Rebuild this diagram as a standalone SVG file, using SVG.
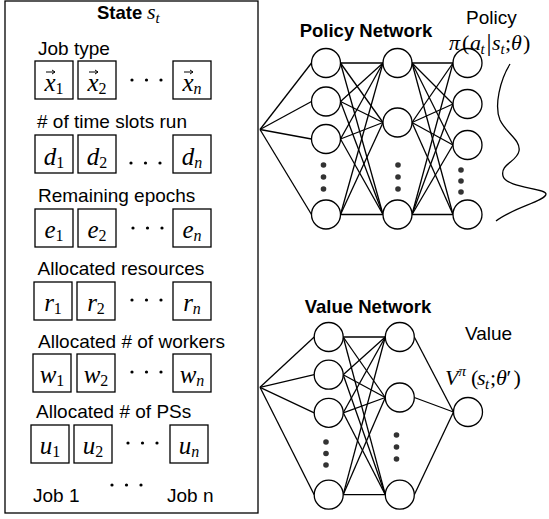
<svg xmlns="http://www.w3.org/2000/svg" width="549" height="519" viewBox="0 0 549 519">
<style>
.lbl{font-family:"Liberation Sans",Arial,Helvetica,sans-serif;font-size:19px;fill:#000}
.hdr{font-family:"Liberation Sans",Arial,Helvetica,sans-serif;font-size:18.5px;font-weight:bold;fill:#000}
.m{font-family:"Liberation Serif","Times New Roman",serif;font-size:22px;font-style:italic;fill:#000}
.bx{font-size:25px}
.up{font-style:normal}
.sb{font-size:15px}
.bs{font-size:16px}
.cell{fill:none;stroke:#000;stroke-width:1.3}
.frame{fill:#fff;stroke:#000;stroke-width:1.3}
.node{fill:#fff;stroke:#000;stroke-width:1.3}
.edge line{stroke:#000;stroke-width:1.3}
.vec{fill:none;stroke:#000;stroke-width:1}
.dot{fill:#333}
.sdot{fill:#000}
.curve{fill:none;stroke:#000;stroke-width:1.3}
</style>
<rect width="549" height="519" fill="#fff"/>

<g id="state">
<rect class="frame" x="5" y="1" width="253" height="512"/>
<text class="hdr" x="97" y="18.5" font-size="17">State</text>
<text class="m" x="147" y="18.5" font-size="20">s<tspan class="sb" dy="4" font-size="14">t</tspan></text>

<g id="row-jobtype">
<text class="lbl" x="38" y="55">Job type</text>
<rect class="cell" x="35" y="61" width="38" height="38"/>
<rect class="cell" x="78" y="61" width="38" height="38"/>
<rect class="cell" x="173" y="61" width="38" height="38"/>
<text class="m bx" x="54" y="91" text-anchor="middle">x<tspan class="up bs" dy="3">1</tspan></text>
<text class="m bx" x="97" y="91" text-anchor="middle">x<tspan class="up bs" dy="3">2</tspan></text>
<text class="m bx" x="192" y="91" text-anchor="middle">x<tspan class="bs" dy="3">n</tspan></text>
<path class="vec" d="M46,72H55M52,70L55,72L52,74M89,72H98M95,70L98,72L95,74M184,72H193M190,70L193,72L190,74"/>
<circle class="sdot" cx="132" cy="80" r="1.6"/><circle class="sdot" cx="146.5" cy="80" r="1.6"/><circle class="sdot" cx="161" cy="80" r="1.6"/>
</g>

<g id="row-timeslots">
<text class="lbl" x="37" y="128"># of time slots run</text>
<rect class="cell" x="35" y="135" width="38" height="38"/>
<rect class="cell" x="78" y="135" width="38" height="38"/>
<rect class="cell" x="173" y="135" width="38" height="38"/>
<text class="m bx" x="54" y="165" text-anchor="middle">d<tspan class="up bs" dy="3">1</tspan></text>
<text class="m bx" x="97" y="165" text-anchor="middle">d<tspan class="up bs" dy="3">2</tspan></text>
<text class="m bx" x="192" y="165" text-anchor="middle">d<tspan class="bs" dy="3">n</tspan></text>
<circle class="sdot" cx="131" cy="163" r="1.6"/><circle class="sdot" cx="145.5" cy="163" r="1.6"/><circle class="sdot" cx="160" cy="163" r="1.6"/>
</g>

<g id="row-epochs">
<text class="lbl" x="38" y="202">Remaining epochs</text>
<rect class="cell" x="35" y="209" width="38" height="38"/>
<rect class="cell" x="78" y="209" width="38" height="38"/>
<rect class="cell" x="173" y="209" width="38" height="38"/>
<text class="m bx" x="54" y="238" text-anchor="middle">e<tspan class="up bs" dy="3">1</tspan></text>
<text class="m bx" x="97" y="238" text-anchor="middle">e<tspan class="up bs" dy="3">2</tspan></text>
<text class="m bx" x="192" y="238" text-anchor="middle">e<tspan class="bs" dy="3">n</tspan></text>
<circle class="sdot" cx="133" cy="228" r="1.6"/><circle class="sdot" cx="147.5" cy="228" r="1.6"/><circle class="sdot" cx="162" cy="228" r="1.6"/>
</g>

<g id="row-resources">
<text class="lbl" x="37.5" y="275">Allocated resources</text>
<rect class="cell" x="34" y="282" width="38" height="38"/>
<rect class="cell" x="77" y="282" width="38" height="38"/>
<rect class="cell" x="173" y="282" width="38" height="38"/>
<text class="m bx" x="53" y="311" text-anchor="middle">r<tspan class="up bs" dy="3">1</tspan></text>
<text class="m bx" x="96" y="311" text-anchor="middle">r<tspan class="up bs" dy="3">2</tspan></text>
<text class="m bx" x="192" y="311" text-anchor="middle">r<tspan class="bs" dy="3">n</tspan></text>
<circle class="sdot" cx="132" cy="300" r="1.6"/><circle class="sdot" cx="146.5" cy="300" r="1.6"/><circle class="sdot" cx="161" cy="300" r="1.6"/>
</g>

<g id="row-workers">
<text class="lbl" x="38" y="348">Allocated # of workers</text>
<rect class="cell" x="33" y="354" width="38" height="38"/>
<rect class="cell" x="77" y="354" width="38" height="38"/>
<rect class="cell" x="173" y="354" width="38" height="38"/>
<text class="m bx" x="52" y="383" text-anchor="middle">w<tspan class="up bs" dy="3">1</tspan></text>
<text class="m bx" x="96" y="383" text-anchor="middle">w<tspan class="up bs" dy="3">2</tspan></text>
<text class="m bx" x="192" y="383" text-anchor="middle">w<tspan class="bs" dy="3">n</tspan></text>
<circle class="sdot" cx="132" cy="372" r="1.6"/><circle class="sdot" cx="146.5" cy="372" r="1.6"/><circle class="sdot" cx="161" cy="372" r="1.6"/>
</g>

<g id="row-ps">
<text class="lbl" x="36" y="418">Allocated # of PSs</text>
<rect class="cell" x="31" y="425" width="38" height="38"/>
<rect class="cell" x="74" y="425" width="38" height="38"/>
<rect class="cell" x="170" y="425" width="38" height="38"/>
<text class="m bx" x="50" y="454" text-anchor="middle">u<tspan class="up bs" dy="3">1</tspan></text>
<text class="m bx" x="93" y="454" text-anchor="middle">u<tspan class="up bs" dy="3">2</tspan></text>
<text class="m bx" x="189" y="454" text-anchor="middle">u<tspan class="bs" dy="3">n</tspan></text>
<circle class="sdot" cx="128" cy="443" r="1.6"/><circle class="sdot" cx="142.5" cy="443" r="1.6"/><circle class="sdot" cx="157" cy="443" r="1.6"/>
</g>

<circle class="sdot" cx="112" cy="485" r="1.6"/><circle class="sdot" cx="126.5" cy="485" r="1.6"/><circle class="sdot" cx="141" cy="485" r="1.6"/>
<text class="lbl" x="33" y="502">Job 1</text>
<text class="lbl" x="167" y="502">Job n</text>
</g>

<g id="connectors" class="edge">
<line x1="260" y1="129.5" x2="311.5" y2="63"/>
<line x1="260" y1="129.5" x2="311.5" y2="101.5"/>
<line x1="260" y1="129.5" x2="311.5" y2="139"/>
<line x1="260" y1="129.5" x2="311.5" y2="214.5"/>
<line x1="340.5" y1="63" x2="383" y2="63"/>
<line x1="340.5" y1="63" x2="383" y2="122.5"/>
<line x1="340.5" y1="63" x2="383" y2="214.5"/>
<line x1="340.5" y1="101.5" x2="383" y2="63"/>
<line x1="340.5" y1="101.5" x2="383" y2="122.5"/>
<line x1="340.5" y1="101.5" x2="383" y2="214.5"/>
<line x1="340.5" y1="139" x2="383" y2="63"/>
<line x1="340.5" y1="139" x2="383" y2="122.5"/>
<line x1="340.5" y1="139" x2="383" y2="214.5"/>
<line x1="340.5" y1="214.5" x2="383" y2="63"/>
<line x1="340.5" y1="214.5" x2="383" y2="122.5"/>
<line x1="340.5" y1="214.5" x2="383" y2="214.5"/>
<line x1="412" y1="63" x2="453" y2="63"/>
<line x1="412" y1="63" x2="453" y2="104"/>
<line x1="412" y1="63" x2="453" y2="145"/>
<line x1="412" y1="63" x2="453" y2="214.5"/>
<line x1="412" y1="122.5" x2="453" y2="63"/>
<line x1="412" y1="122.5" x2="453" y2="104"/>
<line x1="412" y1="122.5" x2="453" y2="145"/>
<line x1="412" y1="122.5" x2="453" y2="214.5"/>
<line x1="412" y1="214.5" x2="453" y2="63"/>
<line x1="412" y1="214.5" x2="453" y2="104"/>
<line x1="412" y1="214.5" x2="453" y2="145"/>
<line x1="412" y1="214.5" x2="453" y2="214.5"/>

<line x1="260" y1="387.3" x2="314.2" y2="337"/>
<line x1="260" y1="387.3" x2="314.2" y2="374.7"/>
<line x1="260" y1="387.3" x2="314.2" y2="412.8"/>
<line x1="260" y1="387.3" x2="314.2" y2="494.7"/>
<line x1="343.2" y1="337" x2="385.3" y2="337"/>
<line x1="343.2" y1="337" x2="385.3" y2="397.5"/>
<line x1="343.2" y1="337" x2="385.3" y2="494.7"/>
<line x1="343.2" y1="374.7" x2="385.3" y2="337"/>
<line x1="343.2" y1="374.7" x2="385.3" y2="397.5"/>
<line x1="343.2" y1="374.7" x2="385.3" y2="494.7"/>
<line x1="343.2" y1="412.8" x2="385.3" y2="337"/>
<line x1="343.2" y1="412.8" x2="385.3" y2="397.5"/>
<line x1="343.2" y1="412.8" x2="385.3" y2="494.7"/>
<line x1="343.2" y1="494.7" x2="385.3" y2="337"/>
<line x1="343.2" y1="494.7" x2="385.3" y2="397.5"/>
<line x1="343.2" y1="494.7" x2="385.3" y2="494.7"/>
<line x1="414.3" y1="337" x2="453.5" y2="412"/>
<line x1="414.3" y1="397.5" x2="453.5" y2="412"/>
<line x1="414.3" y1="494.7" x2="453.5" y2="412"/>
</g>

<g id="policy-network">
<text class="hdr" x="366" y="37" text-anchor="middle">Policy Network</text>
<g id="p1a"><circle class="node" cx="326" cy="63" r="14.5"/></g>
<g id="p1b"><circle class="node" cx="326" cy="101.5" r="14.5"/></g>
<g id="p1c"><circle class="node" cx="326" cy="139" r="14.5"/></g>
<g id="p1d"><circle class="node" cx="326" cy="214.5" r="14.5"/></g>
<g id="p2a"><circle class="node" cx="397.5" cy="63" r="14.5"/></g>
<g id="p2b"><circle class="node" cx="397.5" cy="122.5" r="14.5"/></g>
<g id="p2c"><circle class="node" cx="397.5" cy="214.5" r="14.5"/></g>
<g id="p3a"><circle class="node" cx="467.5" cy="63" r="14.5"/></g>
<g id="p3b"><circle class="node" cx="467.5" cy="104" r="14.5"/></g>
<g id="p3c"><circle class="node" cx="467.5" cy="145" r="14.5"/></g>
<g id="p3d"><circle class="node" cx="467.5" cy="214.5" r="14.5"/></g>
<circle class="dot" cx="323.5" cy="165" r="2.8"/><circle class="dot" cx="323.5" cy="177" r="2.8"/><circle class="dot" cx="323.5" cy="189" r="2.8"/>
<circle class="dot" cx="398" cy="165" r="2.8"/><circle class="dot" cx="398" cy="177" r="2.8"/><circle class="dot" cx="398" cy="189" r="2.8"/>
<circle class="dot" cx="461" cy="170" r="2.8"/><circle class="dot" cx="461" cy="181" r="2.8"/><circle class="dot" cx="461" cy="192" r="2.8"/>
</g>

<g id="policy-output">
<text class="lbl" x="466" y="24" font-size="17">Policy</text>
<text class="m"><tspan x="449" y="50">π</tspan><tspan class="up" x="462" y="50">(</tspan><tspan x="470" y="50">a</tspan><tspan class="sb" x="480.5" y="54">t</tspan><tspan class="up" x="486.5" y="51" font-size="25">|</tspan><tspan x="492" y="50">s</tspan><tspan class="sb" x="500.5" y="54">t</tspan><tspan class="up" x="505" y="50">;</tspan><tspan x="511" y="50">θ</tspan><tspan class="up" x="523" y="50">)</tspan></text>
<path class="curve" d="M510,64 C500,80 494,106 500,120 C506,133 521,140 519,151 C517,162 500,164 503,176 C506,188 546,188 546,194 C546,201 512,208 496,221"/>
</g>

<g id="value-network">
<text class="hdr" x="368" y="313" text-anchor="middle">Value Network</text>
<g id="v1a"><circle class="node" cx="328.7" cy="337" r="14.5"/></g>
<g id="v1b"><circle class="node" cx="328.7" cy="374.7" r="14.5"/></g>
<g id="v1c"><circle class="node" cx="328.7" cy="412.8" r="14.5"/></g>
<g id="v1d"><circle class="node" cx="328.7" cy="494.7" r="14.5"/></g>
<g id="v2a"><circle class="node" cx="399.8" cy="337" r="14.5"/></g>
<g id="v2b"><circle class="node" cx="399.8" cy="397.5" r="14.5"/></g>
<g id="v2c"><circle class="node" cx="399.8" cy="494.7" r="14.5"/></g>
<g id="v3"><circle class="node" cx="468" cy="412" r="14.5"/></g>
<circle class="dot" cx="326" cy="442" r="2.8"/><circle class="dot" cx="326" cy="453.5" r="2.8"/><circle class="dot" cx="326" cy="465" r="2.8"/>
<circle class="dot" cx="396.5" cy="435" r="2.8"/><circle class="dot" cx="396.5" cy="447" r="2.8"/><circle class="dot" cx="396.5" cy="459" r="2.8"/>
</g>

<g id="value-output">
<text class="lbl" x="465" y="340" font-size="17">Value</text>
<text class="m"><tspan x="445" y="385">V</tspan><tspan class="sb" x="458.5" y="376" font-size="13">π</tspan><tspan class="up" x="471" y="385">(</tspan><tspan x="477" y="385">s</tspan><tspan class="sb" x="485" y="389">t</tspan><tspan class="up" x="490" y="385">;</tspan><tspan x="496" y="385">θ</tspan><tspan class="up" x="506.5" y="385">′</tspan><tspan class="up" x="513.5" y="385">)</tspan></text>
</g>
</svg>
